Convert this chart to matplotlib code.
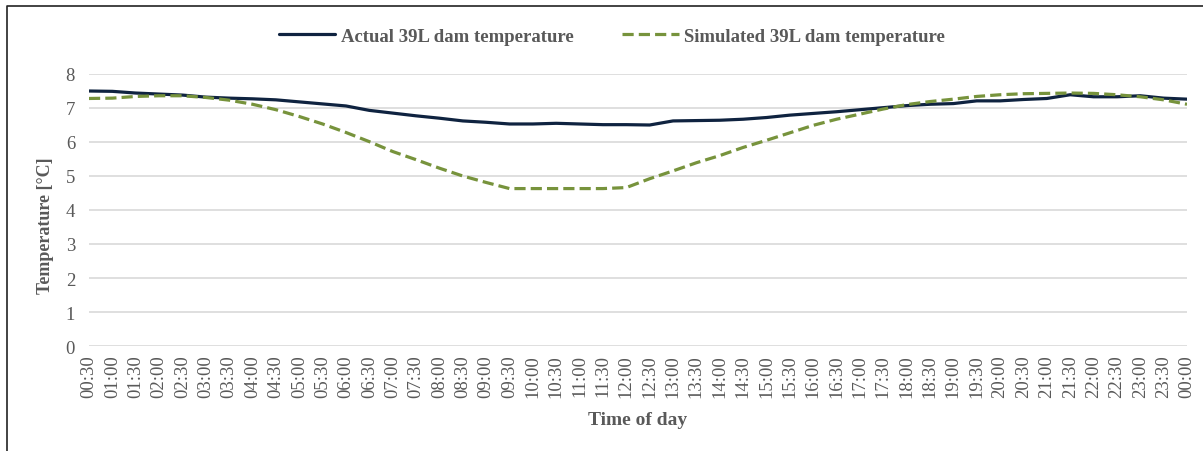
import matplotlib
matplotlib.use('Agg')
import matplotlib.pyplot as plt
from matplotlib.lines import Line2D

times = ['00:30', '01:00', '01:30', '02:00', '02:30', '03:00', '03:30', '04:00',
         '04:30', '05:00', '05:30', '06:00', '06:30', '07:00', '07:30', '08:00',
         '08:30', '09:00', '09:30', '10:00', '10:30', '11:00', '11:30', '12:00',
         '12:30', '13:00', '13:30', '14:00', '14:30', '15:00', '15:30', '16:00',
         '16:30', '17:00', '17:30', '18:00', '18:30', '19:00', '19:30', '20:00',
         '20:30', '21:00', '21:30', '22:00', '22:30', '23:00', '23:30', '00:00']

actual = [7.50, 7.49, 7.44, 7.41, 7.38, 7.32, 7.29, 7.27, 7.24, 7.18, 7.12, 7.06,
          6.93, 6.85, 6.77, 6.70, 6.62, 6.58, 6.53, 6.53, 6.55, 6.53, 6.51, 6.51,
          6.50, 6.62, 6.63, 6.64, 6.67, 6.72, 6.79, 6.84, 6.89, 6.95, 7.01, 7.07,
          7.11, 7.13, 7.21, 7.21, 7.25, 7.28, 7.39, 7.33, 7.33, 7.36, 7.29, 7.26]

simulated = [7.28, 7.29, 7.34, 7.36, 7.36, 7.31, 7.23, 7.11, 6.95, 6.75, 6.53, 6.28,
             6.01, 5.72, 5.48, 5.23, 5.00, 4.81, 4.63, 4.63, 4.63, 4.63, 4.63, 4.66,
             4.92, 5.15, 5.39, 5.60, 5.84, 6.05, 6.27, 6.49, 6.67, 6.82, 6.97, 7.10,
             7.19, 7.26, 7.34, 7.39, 7.42, 7.43, 7.44, 7.43, 7.39, 7.33, 7.24, 7.11]

GREY = '#595959'
plt.rcParams['font.family'] = 'Liberation Serif'

W, H = 1203, 452
fig = plt.figure(figsize=(W / 100, H / 100), dpi=100)
ax = fig.add_axes([89 / W, 1 - 347 / H, 1098 / W, 272 / H])

x = list(range(len(times)))
ax.plot(x, actual, color='#0f2340', lw=2.3, solid_capstyle='round',
        label='Actual 39L dam temperature', zorder=3)
ax.plot(x, simulated, color='#77933c', lw=2.3, linestyle=(0, (3.5, 1.6)),
        label='Simulated 39L dam temperature', zorder=3)

ax.set_xlim(0, len(times) - 1)
ax.set_ylim(0, 8)
ax.set_yticks(range(0, 9))
ax.set_xticks(x)
ax.set_xticklabels(times, rotation=90)
ax.tick_params(axis='both', length=0, labelsize=13.5, labelcolor=GREY)
ax.tick_params(axis='y', pad=10)
ax.tick_params(axis='x', pad=6)
ax.grid(axis='y', color='#d9d9d9', lw=1.2)
ax.set_axisbelow(True)
for s in ax.spines.values():
    s.set_visible(False)

fig.text(638 / W, 1 - 421 / H, 'Time of day', ha='center', va='center',
         fontsize=14, fontweight='bold', color=GREY)
fig.text(45 / W, 1 - 226 / H, 'Temperature [°C]', ha='center', va='center',
         rotation=90, fontsize=13, fontweight='bold', color=GREY)

leg = fig.legend(loc='center', bbox_to_anchor=(612 / W, 1 - 37 / H), ncol=2,
                 frameon=False, handlelength=3.0, columnspacing=2.6,
                 handletextpad=0.3, prop={'size': 13.5, 'weight': 'bold'})
for t in leg.get_texts():
    t.set_color(GREY)

# chart border (left and top edges visible)
fig.add_artist(Line2D([7 / W, 7 / W, 1], [0, 1 - 7 / H, 1 - 7 / H],
                      transform=fig.transFigure, color='#222222', lw=1.2))

fig.savefig('out.png', dpi=100)
